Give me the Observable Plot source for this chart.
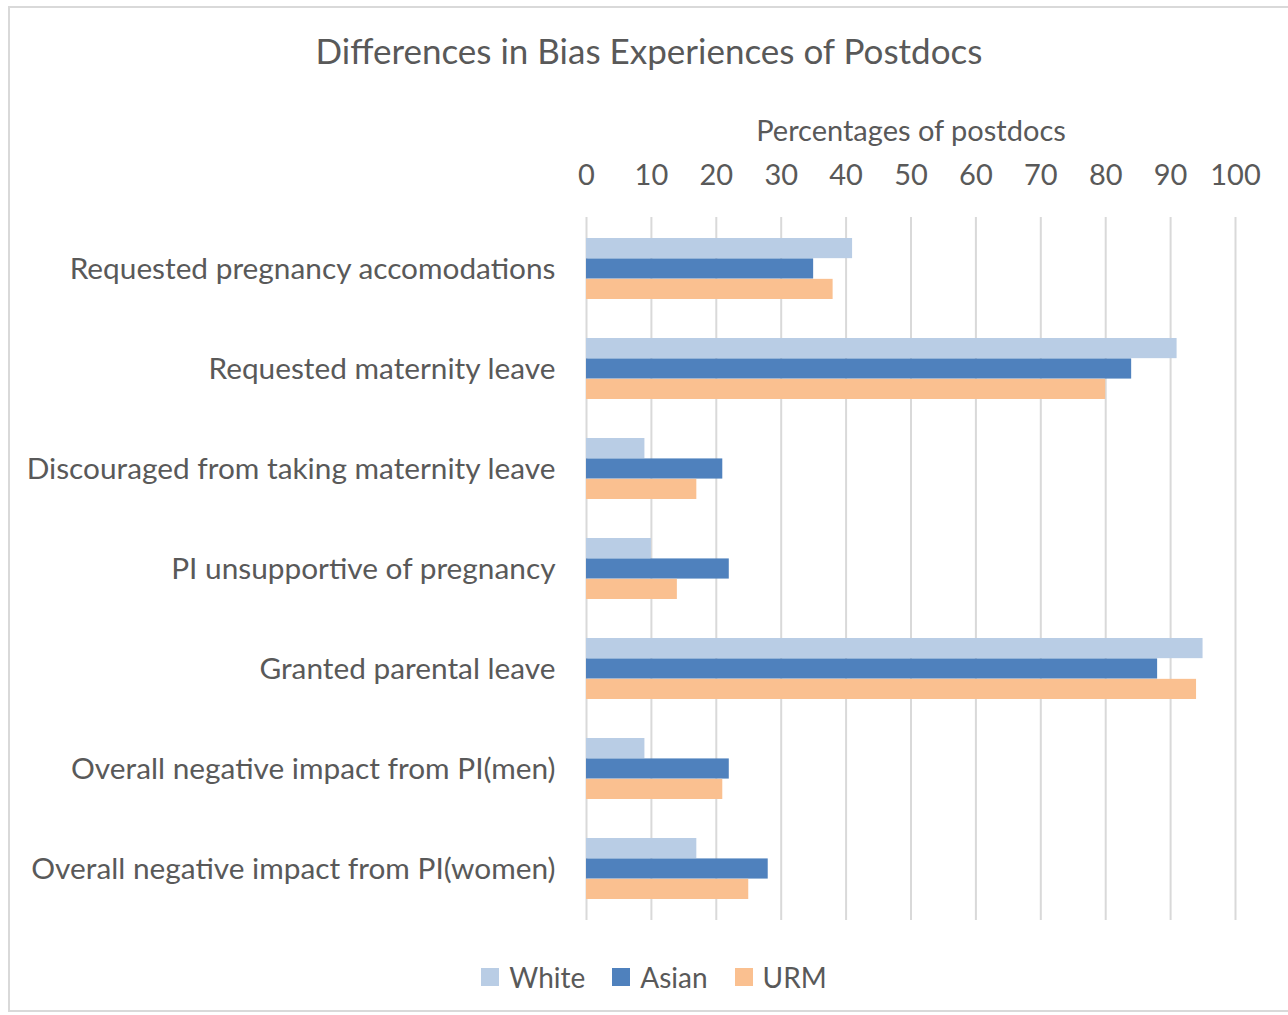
<!DOCTYPE html>
<html>
<head>
<meta charset="utf-8">
<script src="https://cdn.jsdelivr.net/npm/d3@7"></script>
<script src="https://cdn.jsdelivr.net/npm/@observablehq/plot@0.6"></script>
<style>
  html, body { margin: 0; padding: 0; background: #fff; }
  body { width: 1288px; height: 1015px; position: relative; overflow: hidden; font-family: Lato, "Open Sans", sans-serif; color: #595959; }
  #frame { position: absolute; left: 8px; top: 6px; width: 1284px; height: 1006px; border: 2px solid #d9d9d9; box-sizing: border-box; }
  #title { position: absolute; left: 9px; width: 1280px; top: 29px; text-align: center; font-size: 35px; line-height: 42px; }
  #chart { position: absolute; left: 0; top: 100px; }
  #legend { position: absolute; left: 9px; width: 1290px; top: 958px; display: flex; justify-content: center; gap: 27px; font-size: 28px; line-height: 38px; }
  .item { display: flex; align-items: center; gap: 10px; }
  .sw { width: 18px; height: 18px; display: inline-block; }
</style>
</head>
<body>
<div id="frame"></div>
<div id="title">Differences in Bias Experiences of Postdocs</div>
<div id="chart"></div>
<div id="legend"></div>
<script>
const categories = [
  "Requested pregnancy accomodations",
  "Requested maternity leave",
  "Discouraged from taking maternity leave",
  "PI unsupportive of pregnancy",
  "Granted parental leave",
  "Overall negative impact from PI(men)",
  "Overall negative impact from PI(women)"
];
const seriesNames = ["White", "Asian", "URM"];
const whiteValues = [41, 91, 9, 10, 95, 9, 17];
const asianValues = [35, 84, 21, 22, 88, 22, 28];
const urmValues   = [38, 80, 17, 14, 94, 21, 25];
const xTicks = [0, 10, 20, 30, 40, 50, 60, 70, 80, 90, 100];
const colors = ["#B9CDE5", "#4F81BD", "#FAC090"];

const seriesValues = [whiteValues, asianValues, urmValues];
const table = [];
categories.forEach((c, i) => {
  seriesNames.forEach((s, j) => table.push({category: c, series: s, value: seriesValues[j][i]}));
});

const W = 1288, H = 830, mT = 117, mB = 10, mL = 586, mR = 53;
const pad = 0.39;
const step = (H - mT - mB) / categories.length;
const sub = step * (1 - pad) / seriesNames.length;

const barMarks = seriesNames.map((s, j) =>
  Plot.barX(table.filter(d => d.series === s), {
    y: "category", x: "value", fill: colors[j],
    insetTop: j * sub, insetBottom: (seriesNames.length - 1 - j) * sub
  })
);

const chart = Plot.plot({
  width: W,
  height: H,
  marginLeft: mL,
  marginRight: mR,
  marginTop: mT,
  marginBottom: mB,
  style: {fontFamily: "Lato, 'Open Sans', sans-serif", fontSize: "29px", color: "#595959", background: "transparent"},
  x: {domain: [0, 100], axis: "top", ticks: xTicks, tickSize: 0, tickPadding: 33, label: "Percentages of postdocs", labelArrow: false, labelAnchor: "center", labelOffset: 97},
  y: {domain: categories, paddingInner: pad, paddingOuter: pad / 2, axis: null},
  marks: [
    Plot.ruleX(xTicks, {x: d => d, stroke: "#d9d9d9", strokeWidth: 2}),
    ...barMarks,
    Plot.axisY({tickSize: 0, tickPadding: 31, label: null, fontSize: 29.8})
  ]
});
document.getElementById("chart").appendChild(chart);

const legend = document.getElementById("legend");
seriesNames.forEach((s, i) => {
  const it = document.createElement("div");
  it.className = "item";
  it.innerHTML = `<span class="sw" style="background:${colors[i]}"></span><span>${s}</span>`;
  legend.appendChild(it);
});
</script>
</body>
</html>
